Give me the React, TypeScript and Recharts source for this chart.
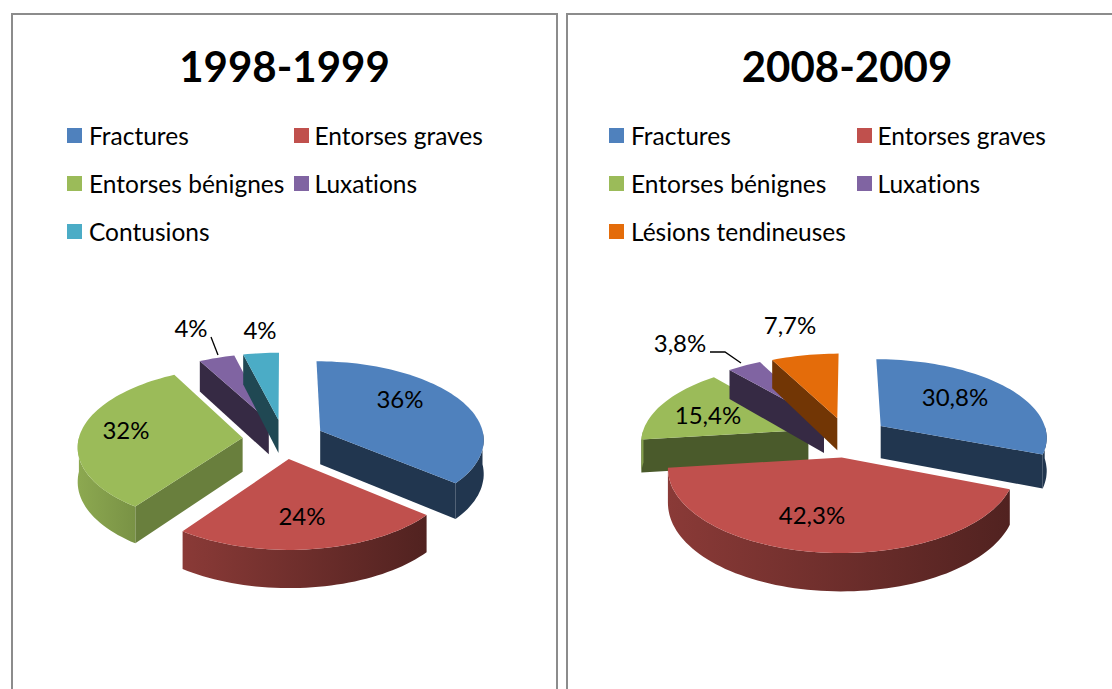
import React from "react";
import { PieChart, Pie, Legend } from "recharts";

const categories1 = ["Fractures", "Entorses graves", "Entorses bénignes", "Luxations", "Contusions"];
const values1 = [36, 24, 32, 4, 4];
const colors1 = ["#4f81bd", "#c0504d", "#9bbb59", "#8064a2", "#4bacc6"];
const title1 = "1998-1999";

const categories2 = ["Fractures", "Entorses graves", "Entorses bénignes", "Luxations", "Lésions tendineuses"];
const values2 = [30.8, 42.3, 15.4, 3.8, 7.7];
const colors2 = ["#4f81bd", "#c0504d", "#9bbb59", "#8064a2", "#e46c0a"];
const title2 = "2008-2009";

const FONT = "Lato, Carlito, Calibri, sans-serif";
const EXPLODE = 0.25;

const layout1 = {
  id: "a", left: 12, top: 14, width: 545, cx: 271.5, cy: 425, rx: 164, ry: 79, k: 0.1, depth: 34,
  shades: [0.42, 0.5, 0.68, 0.42, 0.42],
  labels: [[116.5, -41], [18.5, 76], [-157.5, -10], [-92.5, -112], [-23.5, -110]],
  leader: { index: 3, pts: [[20, 10], [27, 28]] },
  legendX: [55, 282],
};
const layout2 = {
  id: "b", left: 567, top: 14, width: 545, cx: 280, cy: 423, rx: 167, ry: 80, k: 0.13, depth: 33,
  shades: [0.42, 0.5, 0.48, 0.42, 0.5],
  labels: [[108, -41], [-35, 77], [-139, -23], [-167, -95], [-57, -113]],
  leader: { index: 3, pts: [[30, 10], [45, 10], [61, 21]] },
  legendX: [42, 290],
};

const shade = (hex: string, f: number) => {
  const n = parseInt(hex.slice(1), 16);
  const c = [(n >> 16) & 255, (n >> 8) & 255, n & 255].map((v) => Math.round(v * f));
  return `rgb(${c[0]},${c[1]},${c[2]})`;
};

const dir = (deg: number) => {
  const t = (deg * Math.PI) / 180;
  return [Math.sin(t), -Math.cos(t)];
};

function makeShape(layout: any, names: string[], colors: string[], only: string[] | null, except: string[]) {
  return (p: any) => {
    if ((only && !only.includes(p.name)) || except.includes(p.name)) return <g />;
    const index = names.indexOf(p.name);
    const color = colors[index];
    const a = 90 - p.startAngle;
    const b = 90 - p.endAngle;
    const mid = dir((a + b) / 2);
    const ax = mid[0] * EXPLODE;
    const ay = mid[1] * EXPLODE;
    const rx = p.outerRadius;
    const proj = (u: number, v: number, down = 0) => {
      const s = 1 + layout.k * v;
      return [p.cx + rx * u * s, p.cy + layout.ry * v * s + down * layout.depth * s];
    };
    const rim = (deg: number, down = 0) => {
      const d = dir(deg);
      return proj(ax + d[0], ay + d[1], down);
    };
    const pts = (list: number[][]) => list.map((q) => `${q[0].toFixed(1)},${q[1].toFixed(1)}`).join(" ");
    const arc = (from: number, to: number, down: number) => {
      const out: number[][] = [];
      const n = Math.max(2, Math.ceil(Math.abs(to - from) / 2));
      for (let i = 0; i <= n; i++) out.push(rim(from + ((to - from) * i) / n, down));
      return out;
    };
    const side = shade(color, layout.shades[index]);
    const top = [proj(ax, ay), ...arc(a, b, 0)];
    const faces: React.ReactNode[] = [];
    if (Math.sin((a * Math.PI) / 180) < 0) {
      faces.push(<polygon key="s" fill={side} points={pts([proj(ax, ay), rim(a), rim(a, 1), proj(ax, ay, 1)])} />);
    }
    if (Math.sin((b * Math.PI) / 180) > 0) {
      faces.push(<polygon key="e" fill={side} points={pts([proj(ax, ay), rim(b), rim(b, 1), proj(ax, ay, 1)])} />);
    }
    const from = Math.max(a, 90);
    const to = Math.min(b, 270);
    let wall = null;
    let grad = null;
    if (to > from) {
      const gid = `wall-${layout.id}-${index}`;
      const x1 = rim(to)[0];
      const x2 = rim(from)[0];
      const left = index === 2 ? 0.9 : index === 1 ? 0.72 : layout.shades[index];
      const right = index === 2 ? 0.78 : index === 1 ? 0.42 : layout.shades[index];
      grad = (
        <linearGradient id={gid} gradientUnits="userSpaceOnUse" x1={x1} x2={x2} y1={0} y2={0}>
          <stop offset="0" stopColor={shade(color, left)} />
          <stop offset="1" stopColor={shade(color, right)} />
        </linearGradient>
      );
      wall = <polygon fill={`url(#${gid})`} points={pts([...arc(from, to, 0), ...arc(to, from, 1)])} />;
    }
    return (
      <g>
        {grad && <defs>{grad}</defs>}
        {faces}
        {wall}
        <polygon fill={color} points={pts(top)} />
      </g>
    );
  };
}

function makeLabel(layout: any, names: string[], only: string[] | null, except: string[]) {
  return (p: any) => {
    if ((only && !only.includes(p.name)) || except.includes(p.name)) return <g />;
    const index = names.indexOf(p.name);
    const off = layout.labels[index];
    const x = layout.cx + off[0];
    const y = layout.cy + off[1];
    const txt = `${String(p.value).replace(".", ",")}%`;
    const lead = layout.leader.index === index ? layout.leader.pts : null;
    return (
      <g>
        {lead && (
          <polyline
            fill="none"
            stroke="#000"
            strokeWidth={1.3}
            points={lead.map((q: number[]) => `${x + q[0]},${y + q[1]}`).join(" ")}
          />
        )}
        <text x={x} y={y} textAnchor="middle" dominantBaseline="central" fontFamily={FONT} fontSize={24} fill="#000">
          {txt}
        </text>
      </g>
    );
  };
}

const ChartLegend = ({ payload, layout, names }: any) => {
  const items = names.map((n: string) => (payload || []).find((e: any) => e.value === n)).filter(Boolean);
  return (
    <div style={{ position: "relative", width: layout.width, height: 160 }}>
      {items.map((entry: any, i: number) => (
        <div
          key={entry.value}
          style={{
            position: "absolute",
            left: layout.legendX[i % 2],
            top: Math.floor(i / 2) * 48 - 0.6,
            height: 30,
            display: "flex",
            alignItems: "center",
            whiteSpace: "nowrap",
            fontFamily: FONT,
            fontSize: 24.5,
            fontVariantLigatures: "none",
            color: "#000",
          }}
        >
          <span style={{ width: 15, height: 15, background: entry.color, marginRight: i % 2 ? 5.5 : 7, display: "inline-block" }} />
          {entry.value}
        </div>
      ))}
    </div>
  );
};

function Panel({ layout, title, names, values, colors, front }: any) {
  const rows = names.map((name: string, i: number) => ({ name, value: values[i], fill: colors[i] }));
  const common = {
    data: rows,
    dataKey: "value",
    nameKey: "name",
    cx: layout.cx,
    cy: layout.cy,
    innerRadius: 0,
    outerRadius: layout.rx,
    startAngle: 90,
    endAngle: -270,
    stroke: "none",
    labelLine: false,
    isAnimationActive: false,
  };
  return (
    <div style={{ position: "absolute", left: layout.left, top: layout.top, width: layout.width, height: 675 }}>
      <div
        style={{
          position: "absolute",
          left: -1,
          top: -1,
          width: layout.width + 2,
          height: 690,
          borderLeft: "2px solid #8c8c8c",
          borderTop: "2px solid #8c8c8c",
          borderRight: layout.id === "a" ? "2px solid #8c8c8c" : "none",
          boxSizing: "border-box",
        }}
      />
      <div
        style={{
          position: "absolute",
          left: 0,
          top: 22,
          width: layout.id === "a" ? layout.width : 560,
          textAlign: "center",
          fontFamily: FONT,
          fontWeight: 700,
          fontSize: 42,
          lineHeight: "60px",
          color: "#000",
        }}
      >
        {title}
      </div>
      <div style={{ position: "absolute", left: 0, top: 0 }}>
        <PieChart width={layout.width} height={675} margin={{ top: 0, left: 0, right: 0, bottom: 0 }}>
          <Legend
            layout="horizontal"
            verticalAlign="middle"
            align="center"
            itemSorter={null}
            wrapperStyle={{ position: "absolute", left: 0, top: 107, width: layout.width }}
            content={(props: any) => <ChartLegend payload={props.payload} layout={layout} names={names} />}
          />
          <Pie
            {...common}
            shape={makeShape(layout, names, colors, null, front)}
            label={makeLabel(layout, names, null, front)}
          />
          <Pie
            {...common}
            legendType="none"
            shape={makeShape(layout, names, colors, front, [])}
            label={makeLabel(layout, names, front, [])}
          />
        </PieChart>
      </div>
    </div>
  );
}

export default function App() {
  return (
    <div style={{ position: "absolute", left: 0, top: 0, width: 1112, height: 689, overflow: "hidden", background: "#fff" }}>
      <Panel layout={layout1} title={title1} names={categories1} values={values1} colors={colors1} front={[]} />
      <Panel layout={layout2} title={title2} names={categories2} values={values2} colors={colors2} front={["Entorses graves"]} />
    </div>
  );
}
